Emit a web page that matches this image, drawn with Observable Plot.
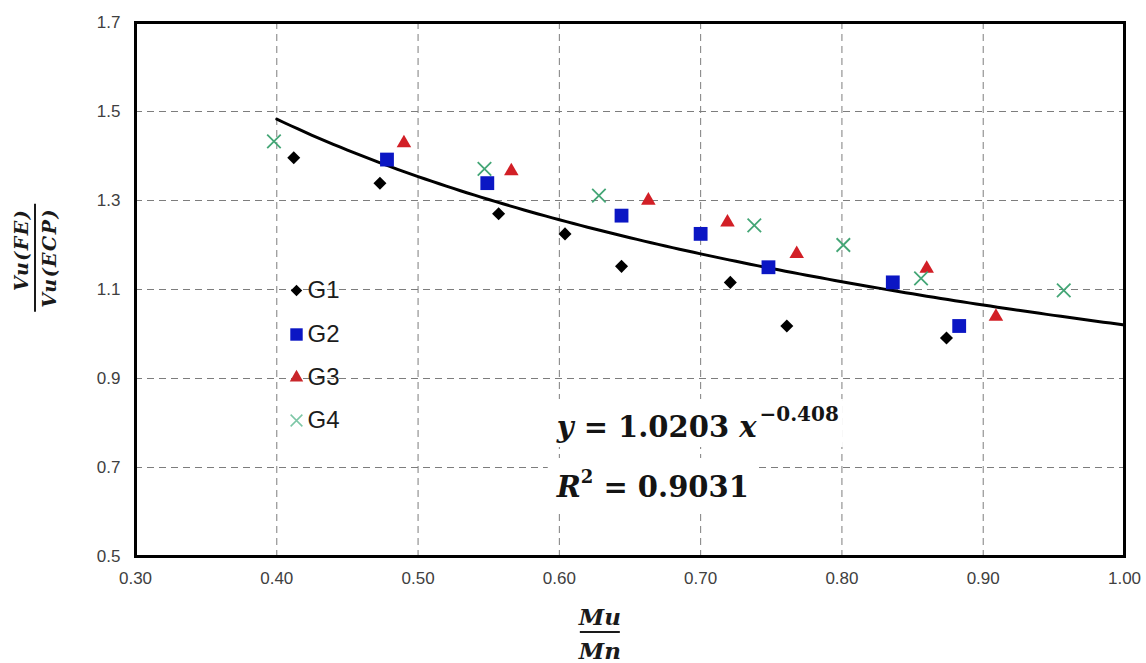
<!DOCTYPE html>
<html>
<head>
<meta charset="utf-8">
<script src="https://cdn.jsdelivr.net/npm/d3@7"></script>
<script src="https://cdn.jsdelivr.net/npm/@observablehq/plot@0.6"></script>
<style>
  html, body { margin: 0; padding: 0; background: #fff; }
  #chart { width: 1146px; height: 663px; }
</style>
</head>
<body>
<div id="chart"></div>
<script>
// Ratio of shear capacities Vu(FE)/Vu(ECP) against moment ratio Mu/Mn, four groups
const seriesNames = ["G1", "G2", "G3", "G4"];

const g1MuMn  = [0.412, 0.473, 0.557, 0.604, 0.644, 0.721, 0.761, 0.874];
const g1Ratio = [1.396, 1.339, 1.270, 1.225, 1.152, 1.116, 1.018, 0.991];

const g2MuMn  = [0.478, 0.549, 0.644, 0.700, 0.748, 0.836, 0.883];
const g2Ratio = [1.392, 1.339, 1.266, 1.225, 1.150, 1.116, 1.018];

const g3MuMn  = [0.490, 0.566, 0.663, 0.719, 0.768, 0.860, 0.909];
const g3Ratio = [1.429, 1.366, 1.300, 1.251, 1.180, 1.147, 1.039];

const g4MuMn  = [0.398, 0.547, 0.628, 0.738, 0.801, 0.856, 0.957];
const g4Ratio = [1.433, 1.371, 1.311, 1.244, 1.200, 1.125, 1.098];

// Power-law trend line y = a * x^b and its goodness of fit
const fitA = 1.0203;
const fitB = -0.408;
const fitR2 = 0.9031;
const fitRange = [0.40, 1.00];

// Axis ticks
const xTicks = [0.30, 0.40, 0.50, 0.60, 0.70, 0.80, 0.90, 1.00];
const yTicks = [0.5, 0.7, 0.9, 1.1, 1.3, 1.5, 1.7];

// ---- marks ----
const diamond = {
  draw(ctx, size) {
    const h = Math.sqrt(size / 2);
    ctx.moveTo(0, -h); ctx.lineTo(h, 0); ctx.lineTo(0, h); ctx.lineTo(-h, 0); ctx.closePath();
  }
};

const groups = [
  {x: g1MuMn, y: g1Ratio},
  {x: g2MuMn, y: g2Ratio},
  {x: g3MuMn, y: g3Ratio},
  {x: g4MuMn, y: g4Ratio}
];

const looks = [
  {symbol: diamond,    r: 5.2, fill: "#000000", stroke: "none"},
  {symbol: "square",   r: 7.8, fill: "#0b16c4", stroke: "none"},
  {symbol: "triangle", r: 5.4, fill: "#d21f26", stroke: "none"},
  {symbol: "times",    r: 6.2, fill: "none",    stroke: "#44a676", strokeWidth: 1.8}
];
const legendLooks = [
  {symbol: diamond,    r: 4.6, fill: "#000000", stroke: "none"},
  {symbol: "square",   r: 7.0, fill: "#0b16c4", stroke: "none"},
  {symbol: "triangle", r: 5.0, fill: "#c9262b", stroke: "none"},
  {symbol: "times",    r: 5.4, fill: "none",    stroke: "#7cc6a6", strokeWidth: 1.5}
];

const points = groups.map((g, i) =>
  g.x.map((x, j) => ({group: seriesNames[i], x, y: g.y[j]}))
);

// Sample the fitted curve over its range
const curve = d3.range(0, 121).map(k => {
  const x = fitRange[0] + (fitRange[1] - fitRange[0]) * k / 120;
  return {x, y: fitA * Math.pow(x, fitB)};
});

const legendDy = [268, 312, 355, 398];

const gridStyle = {stroke: "#7d7d7d", strokeOpacity: 1, strokeWidth: 1, strokeDasharray: "7,5"};

const chart = Plot.plot({
  width: 1146,
  height: 663,
  marginTop: 22,
  marginRight: 22,
  marginBottom: 107,
  marginLeft: 135,
  style: {fontFamily: "'Liberation Sans', Arial, sans-serif", color: "#404040", background: "#ffffff"},
  x: {domain: [0.30, 1.00]},
  y: {domain: [0.5, 1.7]},
  marks: [
    Plot.gridX({ticks: xTicks.slice(1, -1), ...gridStyle}),
    Plot.gridY({ticks: yTicks.slice(1, -1), ...gridStyle}),
    Plot.axisX({ticks: xTicks, tickSize: 0, tickPadding: 15, tickFormat: d3.format(".2f"), fontSize: 17, label: null}),
    Plot.axisY({ticks: yTicks, tickSize: 0, tickPadding: 15, tickFormat: d3.format(".1f"), fontSize: 17, label: null}),
    Plot.line(curve, {x: "x", y: "y", stroke: "#000", strokeWidth: 3}),
    ...points.map((data, i) => Plot.dot(data, {x: "x", y: "y", ...looks[i]})),
    ...seriesNames.flatMap((name, i) => [
      Plot.dot([name], {frameAnchor: "top-left", dx: 161, dy: legendDy[i], ...legendLooks[i]}),
      Plot.text([name], {frameAnchor: "top-left", dx: 172, dy: legendDy[i], text: d => d,
        textAnchor: "start", lineAnchor: "middle", fontSize: 24, fill: "#1c1c1c"})
    ]),
    Plot.frame({stroke: "#000", strokeWidth: 3})
  ]
});

document.getElementById("chart").appendChild(chart);

// ---- annotations: fitted equation and fractional axis titles ----
const xs = chart.scale("x"), ys = chart.scale("y");
const px = xs.apply ? v => xs.apply(v) : d3.scaleLinear(xs.domain, xs.range);
const py = ys.apply ? v => ys.apply(v) : d3.scaleLinear(ys.domain, ys.range);
const svg = d3.select(chart);
const serif = "'DejaVu Serif', 'Liberation Serif', serif";

function boxed(textSel, padX, padY) {
  const b = textSel.node().getBBox();
  svg.insert("rect", () => textSel.node())
    .attr("x", b.x - padX).attr("y", b.y - padY)
    .attr("width", b.width + 2 * padX).attr("height", b.height + 2 * padY)
    .attr("fill", "#fff");
}

const eqAt = [0.5985, 0.7674];
const r2At = [0.5985, 0.6326];
const fmtExp = fitB.toFixed(3).replace("-", "\u2212");

const eq = svg.append("text")
  .attr("x", px(eqAt[0])).attr("y", py(eqAt[1])).attr("text-anchor", "start")
  .attr("font-family", serif).attr("font-weight", "bold").attr("font-size", 29).attr("fill", "#141414");
eq.append("tspan").attr("font-style", "italic").text("y");
eq.append("tspan").text(" = " + fitA.toFixed(4) + " ");
eq.append("tspan").attr("font-style", "italic").text("x");
eq.append("tspan").attr("font-size", 20).attr("dx", 3).attr("dy", -16).text(fmtExp);
boxed(eq, 4, 3);

const r2 = svg.append("text")
  .attr("x", px(r2At[0])).attr("y", py(r2At[1])).attr("text-anchor", "start")
  .attr("font-family", serif).attr("font-weight", "bold").attr("font-size", 29).attr("fill", "#141414");
r2.append("tspan").attr("font-style", "italic").text("R");
r2.append("tspan").attr("font-size", 18).attr("dy", -14).text("2");
r2.append("tspan").attr("dy", 14).text(" = " + fitR2.toFixed(4));
boxed(r2, 8, 8);

// x title: Mu / Mn
const plotBottom = py(0.5);
const xTitleX = px(0.629);
svg.append("text").attr("x", xTitleX).attr("y", plotBottom + 69)
  .attr("text-anchor", "middle").attr("font-family", serif).attr("font-weight", "bold")
  .attr("font-style", "italic").attr("font-size", 23).attr("fill", "#1a1a1a").text("Mu");
svg.append("text").attr("x", xTitleX).attr("y", plotBottom + 103)
  .attr("text-anchor", "middle").attr("font-family", serif).attr("font-weight", "bold")
  .attr("font-style", "italic").attr("font-size", 23).attr("fill", "#1a1a1a").text("Mn");
svg.append("line")
  .attr("x1", xTitleX - 20).attr("x2", xTitleX + 20)
  .attr("y1", plotBottom + 76).attr("y2", plotBottom + 76)
  .attr("stroke", "#1a1a1a").attr("stroke-width", 2);

// y title: Vu(FE) / Vu(ECP), rotated
const yTitle = svg.append("g")
  .attr("transform", `translate(${px(0.30) - 100},${py(1.17)}) rotate(-90)`)
  .attr("font-family", serif).attr("font-weight", "bold").attr("font-style", "italic")
  .attr("font-size", 19).attr("fill", "#1a1a1a").attr("letter-spacing", 1.5);
yTitle.append("text").attr("x", 8).attr("y", -7).attr("text-anchor", "middle").text("Vu(FE)");
yTitle.append("text").attr("x", 0).attr("y", 21).attr("text-anchor", "middle").text("Vu(ECP)");
yTitle.append("line").attr("x1", -54).attr("x2", 54).attr("y1", 0).attr("y2", 0)
  .attr("stroke", "#1a1a1a").attr("stroke-width", 2);
</script>
</body>
</html>
